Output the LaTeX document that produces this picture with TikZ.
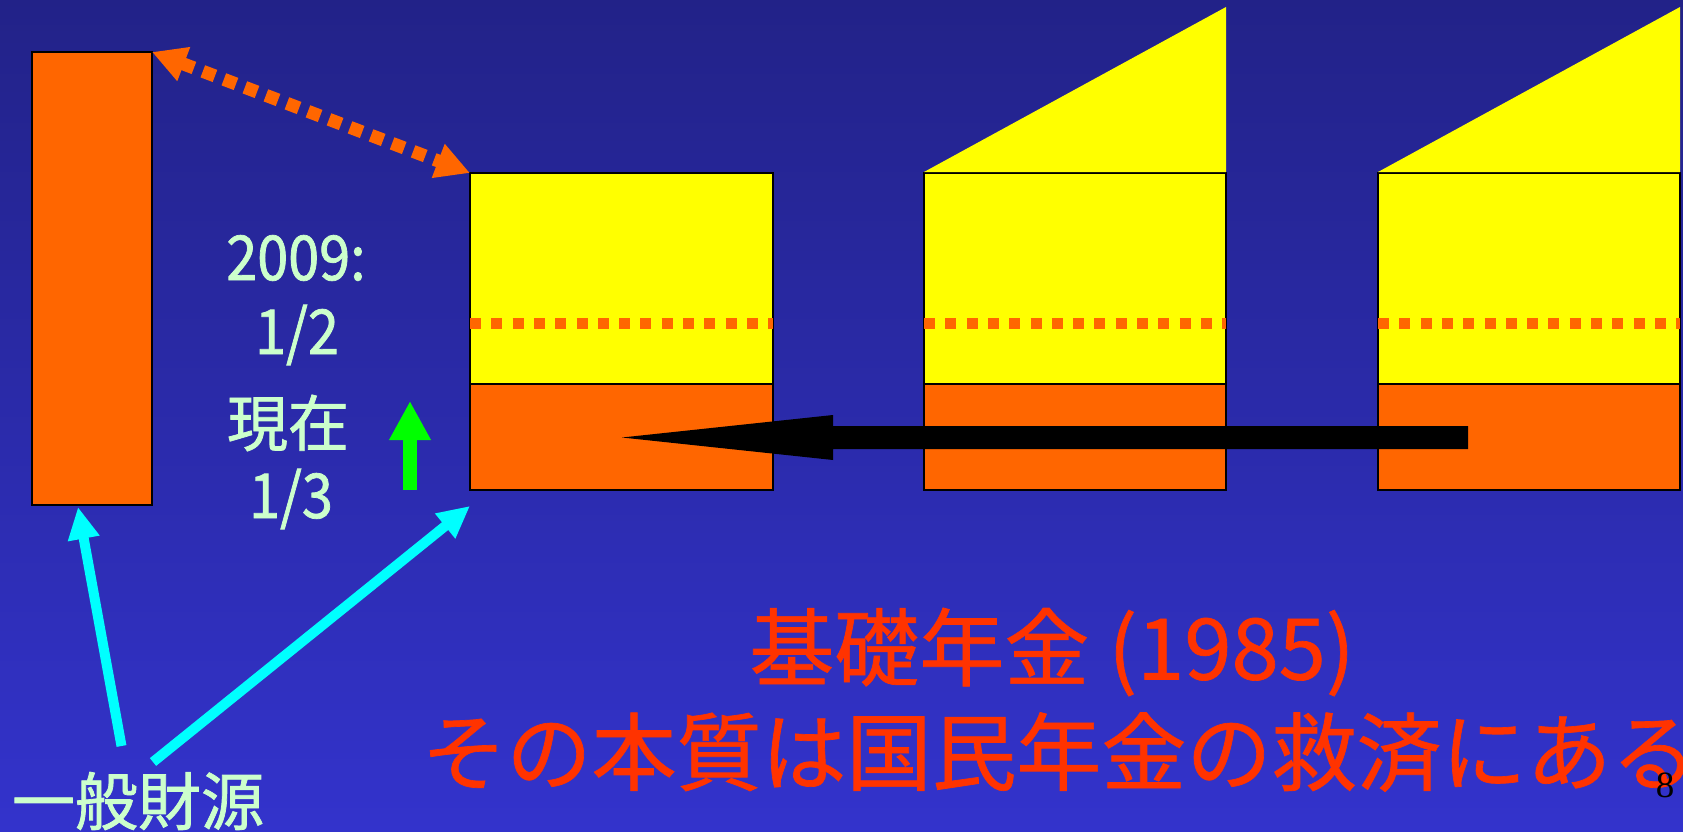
\documentclass[tikz,border=0pt]{standalone}
\usepackage{fontspec}
\newfontfamily\jp[FakeBold=1.2]{Noto Sans CJK JP}
\newfontfamily\jpnum[FakeBold=1.2,FakeStretch=0.9]{Noto Sans CJK JP}
\newfontfamily\jpr[FakeBold=0.8]{Noto Sans CJK JP}
\newfontfamily\serifnum{Liberation Serif}
\usetikzlibrary{arrows.meta}
\definecolor{bgtop}{RGB}{34,34,136}
\definecolor{bgbot}{RGB}{51,51,204}
\definecolor{orng}{HTML}{FF6600}
\definecolor{yel}{HTML}{FFFF00}
\definecolor{lgreen}{HTML}{CCFFCC}
\definecolor{redtxt}{HTML}{FF3300}
\definecolor{cyanarrow}{HTML}{00FFFF}
\definecolor{greenarrow}{HTML}{00FF00}
\begin{document}
\begin{tikzpicture}[x=1pt,y=-1pt,
  box/.style={draw=black, line width=2pt, inner sep=0pt, outer sep=0pt, anchor=north west},
  obox/.style={box, fill=orng},
  ybox/.style={box, fill=yel},
  tri/.style={fill=yel},
  dotline/.style={draw=orng, line width=11pt, dash pattern=on 11pt off 10.3pt},
  linktip/.style={draw=orng, line width=13pt, dash pattern=on 13pt off 9.5pt,
    {Triangle[length=34pt,width=34pt]}-{Triangle[length=34pt,width=34pt]}},
  bigarrow/.style={fill=black},
  uparrow/.style={draw=greenarrow, line width=13.5pt, -{Triangle[length=39pt,width=39pt]}},
  cyarrow/.style={draw=cyanarrow, line width=10pt, -{Triangle[length=32pt,width=30pt]}},
  lgtext/.style={text=lgreen, inner sep=0pt, font=\jp\fontsize{61}{70}\selectfont},
  lgnum/.style={lgtext, font=\jpnum\fontsize{62}{70}\selectfont},
  redtext/.style={text=redtxt, inner sep=0pt, font=\jpr\fontsize{85}{100}\selectfont},
]
\useasboundingbox (0,0) rectangle (1683,832);
\shade[top color=bgtop, bottom color=bgbot] (0,0) rectangle (1683,832);

% boxes
\node[obox, minimum width=120pt, minimum height=453pt] (gen) at (32,52) {};
\node[ybox, minimum width=303pt, minimum height=211pt] (y1) at (470,173) {};
\node[obox, minimum width=303pt, minimum height=106pt] (o1) at (470,384) {};
\node[ybox, minimum width=302pt, minimum height=211pt] (y2) at (924,173) {};
\node[obox, minimum width=302pt, minimum height=106pt] (o2) at (924,384) {};
\node[ybox, minimum width=302pt, minimum height=211pt] (y3) at (1378,173) {};
\node[obox, minimum width=302pt, minimum height=106pt] (o3) at (1378,384) {};

% triangles on top
\fill[tri] ([yshift=1pt]y2.north west) -- ([yshift=1pt]y2.north east) -- ([yshift=166pt]y2.north east) -- cycle;
\fill[tri] ([yshift=1pt]y3.north west) -- ([yshift=1pt]y3.north east) -- ([yshift=166pt]y3.north east) -- cycle;

% dotted dividers
\draw[dotline] ([yshift=60.5pt]y1.south west) -- ([yshift=60.5pt]y1.south east);
\draw[dotline] ([yshift=60.5pt]y2.south west) -- ([yshift=60.5pt]y2.south east);
\draw[dotline] ([yshift=60.5pt]y3.south west) -- ([yshift=60.5pt]y3.south east);

% dotted double arrow
\draw[linktip] (gen.north east) -- (y1.north west);

% black arrow (from box 3 back to box 1)
\coordinate (bs) at (1468,437.5);
\coordinate (be) at (622,437.5);
\fill[bigarrow] (be) -- ++(211,-22.5) -- ++(0,11) -- ([yshift=11.5pt]bs) -- ([yshift=-11.5pt]bs) -- ++(-635,0) -- ++(0,11) -- cycle;

% texts
\node[lgnum] (t2009) at (296,258) {2009:};
\node[lgnum] (thalf) at (297,335) {1/2};
\node[lgtext] (tnow) at (288,423) {現在};
\node[lgnum] (tthird) at (291,499) {1/3};
\node[lgtext, font=\jp\fontsize{63}{70}\selectfont] (src) at (138,801) {一般財源};

% green arrow
\coordinate (gs) at (410,490);
\coordinate (ge) at (410,401);
\draw[uparrow] (gs) -- (ge);

% cyan arrows
\coordinate (c1s) at (121.5,746);
\coordinate (c1e) at (78,507);
\coordinate (c2s) at (153,762);
\coordinate (c2e) at (470,506);
\draw[cyarrow] (c1s) -- (c1e);
\draw[cyarrow] (c2s) -- (c2e);

% red text
\node[redtext] (r1) at (1052,652) {基礎年金 (1985)};
\node[redtext] (r2) at (1059,752) {その本質は国民年金の救済にある};

% page number
\node[inner sep=0pt, font=\serifnum\fontsize{37}{40}\selectfont] (pg) at (1665,785) {8};
\end{tikzpicture}
\end{document}
